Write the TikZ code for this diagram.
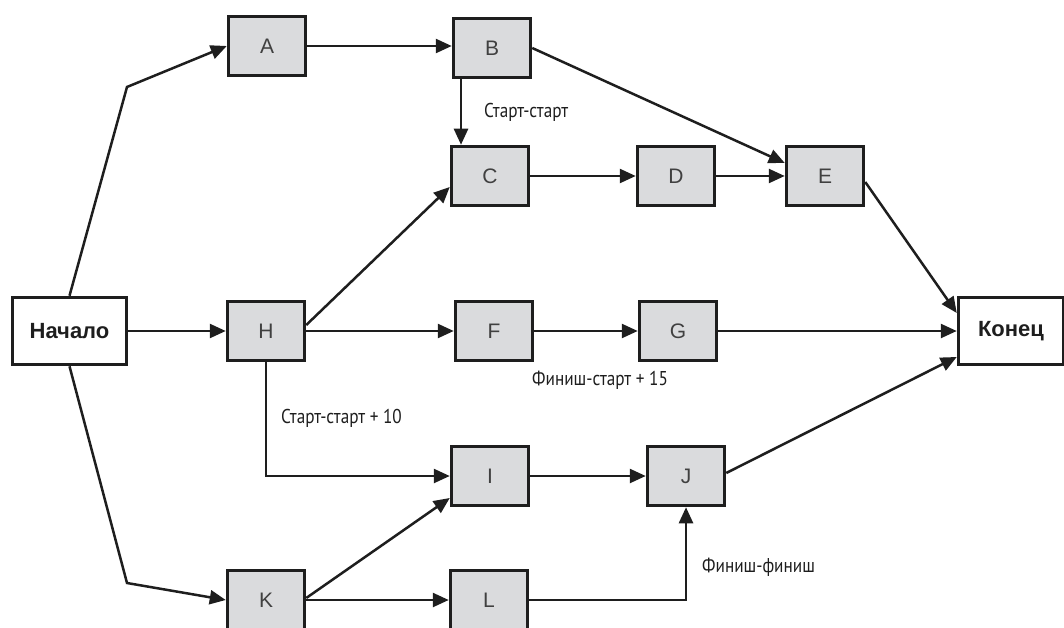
\documentclass[tikz,border=0pt]{standalone}
\usepackage{fontspec}
\setmainfont{Liberation Sans}
\newfontfamily\labfont[FakeStretch=0.86]{PT Sans}
\usetikzlibrary{arrows.meta}
\definecolor{boxgray}{RGB}{218,219,221}
\definecolor{ink}{RGB}{30,30,30}
\tikzset{
  act/.style={draw=ink, line width=3.5pt, fill=boxgray, minimum width=77pt, minimum height=59pt,
    inner sep=0pt, font=\fontsize{21}{23}\selectfont, text=ink!85},
  term/.style={draw=ink, line width=3.5pt, fill=white, inner sep=0pt,
    font=\fontsize{22}{24}\selectfont\bfseries, text=ink},
  link/.style={draw=ink, line width=2.5pt, -{Triangle[length=16pt,width=14pt]}},
  lab/.style={font=\labfont\fontsize{20}{22}\selectfont, text=ink, inner sep=0pt, anchor=west}
}
\begin{document}
\begin{tikzpicture}[x=1pt,y=-1pt]
\useasboundingbox (0,0) rectangle (1064,628);
% nodes
\node[term, minimum width=114pt, minimum height=67pt] (start) at (69.5,331) {Начало};
\node[term, minimum width=105pt, minimum height=67pt] (end) at (1011,331) {Конец};
\node[act] (A) at (267,46) {A};
\node[act] (B) at (492,48) {B};
\node[act] (C) at (490,176) {C};
\node[act] (D) at (676,176) {D};
\node[act] (E) at (825,176) {E};
\node[act] (H) at (266,331) {H};
\node[act] (F) at (494,331) {F};
\node[act] (G) at (678,331) {G};
\node[act] (I) at (490,476) {I};
\node[act] (J) at (686,476) {J};
\node[act] (K) at (266,600) {K};
\node[act] (L) at (489,600) {L};
% bend points
\coordinate (sa) at (127,87);
\coordinate (sk) at (127,583);
\coordinate (bc) at (461,0);
% connectors
\draw[link] (start.north) -- (sa) -- (A.west);
\draw[link] (start.east) -- (H.west);
\draw[link] (start.south) -- (sk) -- (K.west);
\draw[link] (A.east) -- (A.east -| B.west);
\draw[link] (B.south -| bc) -- (C.north -| bc);
\draw[link] (B.east) -- ([yshift=13pt]E.west);
\draw[link] (C.east) -- (D.west);
\draw[link] (D.east) -- (E.west);
\draw[link] ([yshift=-6pt]E.east) -- ([yshift=18pt]end.west);
\draw[link] ([yshift=6pt]H.east) -- ([yshift=-11pt]C.west);
\draw[link] (H.east) -- (F.west);
\draw[link] (F.east) -- (G.west);
\draw[link] (G.east) -- (end.west);
\draw[link] (H.south) -- (H.south |- I.west) -- (I.west);
\draw[link] ([yshift=2pt]K.east) -- ([yshift=-22pt]I.west);
\draw[link] (K.east) -- (L.west);
\draw[link] (I.east) -- (J.west);
\draw[link] (L.east) -- (L.east -| J.south) -- (J.south);
\draw[link] ([yshift=3pt]J.east) -- ([yshift=-26pt]end.west);
% labels
\node[lab] (l1) at (484,112) {Старт-старт};
\node[lab] (l2) at (281,418) {Старт-старт + 10};
\node[lab] (l3) at (532,380) {Финиш-старт + 15};
\node[lab] (l4) at (702,567) {Финиш-финиш};
\end{tikzpicture}
\end{document}
